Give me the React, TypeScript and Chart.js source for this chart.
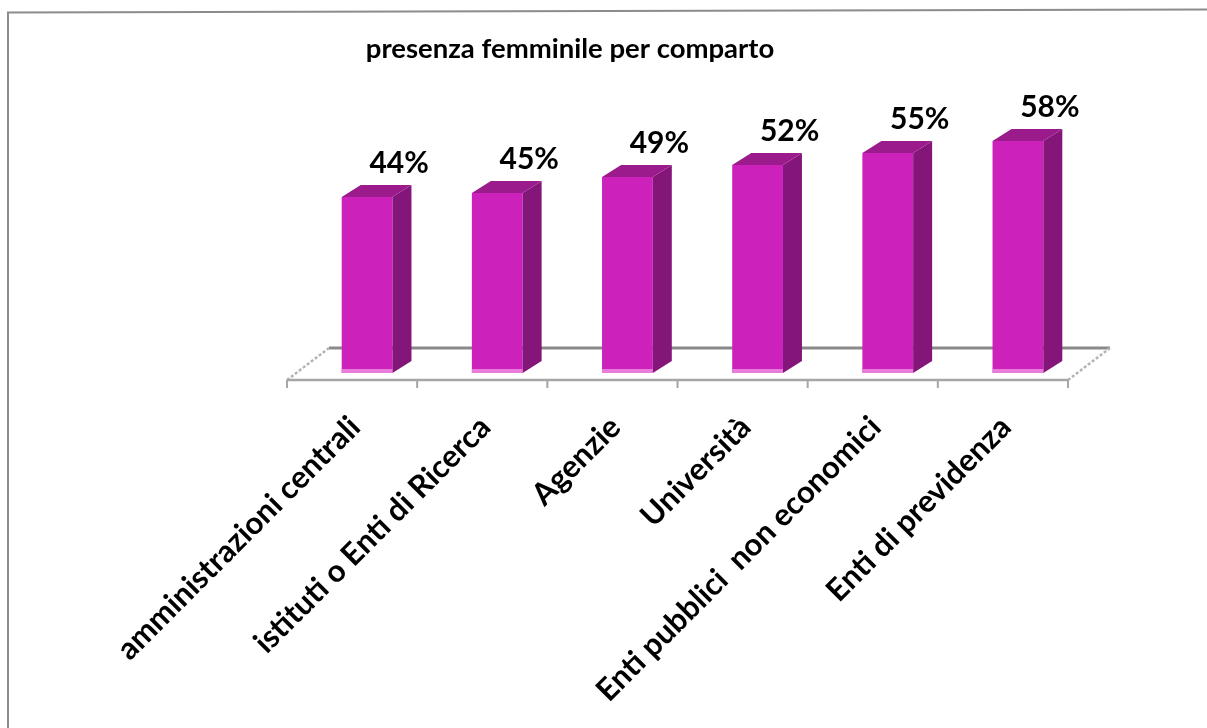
import React, { useEffect, useRef } from 'react';
import { Chart, registerables } from 'chart.js';

Chart.register(...registerables);

const categories = [
  'amministrazioni centrali',
  'istituti o Enti di Ricerca',
  'Agenzie',
  'Università',
  'Enti pubblici  non economici',
  'Enti di previdenza',
];
const values = [44, 45, 49, 52, 55, 58];
const valueLabels = ['44%', '45%', '49%', '52%', '55%', '58%'];
const chartTitle = 'presenza femminile per comparto';

const FONT = 'Lato, "Open Sans", sans-serif';
const FRONT = '#CC22BB';
const SIDE = '#851679';
const TOP = '#9B1B8D';

const decor = {
  id: 'decor',
  beforeDraw(chart: any) {
    const { ctx } = chart;
    ctx.save();
    ctx.fillStyle = '#ffffff';
    ctx.fillRect(0, 0, chart.width, chart.height);
    ctx.strokeStyle = '#8c8c8c';
    ctx.lineWidth = 2;
    ctx.beginPath();
    ctx.moveTo(8, chart.height);
    ctx.lineTo(8, 12.5);
    ctx.lineTo(chart.width, 9.5);
    ctx.stroke();
    ctx.restore();
  },
  beforeDatasetsDraw(chart: any) {
    const { ctx, chartArea, scales } = chart;
    const y0 = scales.y.getPixelForValue(0);
    const shift = 15;
    const left = chartArea.left - shift;
    const right = chartArea.right - shift;
    const fy = y0 + 7;
    const by = y0 - 25;
    const dx = 42;
    ctx.save();
    ctx.strokeStyle = '#8a8a8a';
    ctx.lineWidth = 3;
    ctx.beginPath();
    ctx.moveTo(left + dx, by);
    ctx.lineTo(right + dx, by);
    ctx.stroke();
    ctx.strokeStyle = '#b4b4b4';
    ctx.lineWidth = 2.5;
    ctx.setLineDash([3, 2]);
    ctx.beginPath();
    ctx.moveTo(left, fy);
    ctx.lineTo(left + dx, by);
    ctx.moveTo(right, fy);
    ctx.lineTo(right + dx, by);
    ctx.stroke();
    ctx.setLineDash([]);
    ctx.strokeStyle = '#a6a6a6';
    ctx.lineWidth = 2.5;
    ctx.beginPath();
    ctx.moveTo(left, fy);
    ctx.lineTo(right, fy);
    ctx.stroke();
    const n = categories.length;
    const w = (right - left) / n;
    ctx.lineWidth = 2;
    ctx.beginPath();
    for (let i = 0; i <= n; i++) {
      const tx = left + i * w;
      ctx.moveTo(tx, fy);
      ctx.lineTo(tx, fy + 8);
    }
    ctx.stroke();
    ctx.restore();
  },
  afterDatasetsDraw(chart: any) {
    const { ctx } = chart;
    const meta = chart.getDatasetMeta(0);
    const dx = 19;
    const dy = 12;
    ctx.save();
    meta.data.forEach((el: any, i: number) => {
      const xl = el.x - el.width / 2;
      const xr = el.x + el.width / 2;
      const top = el.y;
      const base = el.base;
      ctx.fillStyle = SIDE;
      ctx.beginPath();
      ctx.moveTo(xr, top);
      ctx.lineTo(xr + dx, top - dy);
      ctx.lineTo(xr + dx, base - dy);
      ctx.lineTo(xr, base);
      ctx.closePath();
      ctx.fill();
      ctx.fillStyle = TOP;
      ctx.beginPath();
      ctx.moveTo(xl, top);
      ctx.lineTo(xr, top);
      ctx.lineTo(xr + dx, top - dy);
      ctx.lineTo(xl + dx, top - dy);
      ctx.closePath();
      ctx.fill();
      ctx.fillStyle = 'rgba(235,140,225,0.85)';
      ctx.fillRect(xl, base - 4, xr - xl, 4);
      ctx.fillStyle = '#000';
      ctx.font = `bold 30px ${FONT}`;
      ctx.textAlign = 'center';
      ctx.textBaseline = 'middle';
      ctx.fillText(valueLabels[i], el.x + 32, top - 34);
    });
    ctx.restore();
  },
};

export default function App() {
  const ref = useRef<HTMLCanvasElement | null>(null);
  useEffect(() => {
    document.body.style.margin = '0';
    const canvas = ref.current;
    if (!canvas) return;
    const chart = new Chart(canvas, {
      type: 'bar',
      data: {
        labels: categories,
        datasets: [
          {
            data: values,
            backgroundColor: FRONT,
            borderWidth: 0,
            categoryPercentage: 0.39,
            barPercentage: 1,
          },
        ],
      },
      options: {
        responsive: false,
        animation: false,
        layout: { padding: { left: 0, right: 67, top: 0, bottom: 0 } },
        plugins: {
          legend: { display: false },
          tooltip: { enabled: false },
          title: {
            display: true,
            text: chartTitle,
            color: '#000',
            font: { family: FONT, size: 27.5, weight: 'bold' },
            padding: { top: 32.5, bottom: 7.5 },
          },
        },
        scales: {
          x: {
            grid: { display: false },
            border: { display: false },
            ticks: {
              color: '#000',
              font: { family: FONT, size: 31, weight: 'bold' },
              minRotation: 45,
              maxRotation: 45,
              autoSkip: false,
              padding: 28,
              labelOffset: -12,
            },
            afterFit: (s: any) => {
              s.height = 355;
            },
          },
          y: {
            position: 'left',
            min: 0,
            max: 75,
            grid: { display: false },
            border: { display: false },
            ticks: { display: false },
            afterFit: (s: any) => {
              s.width = 302;
            },
          },
          yR: {
            type: 'linear',
            position: 'right',
            min: 0,
            max: 1,
            grid: { display: false },
            border: { display: false },
            ticks: { display: false },
            afterFit: (s: any) => {
              s.width = 57;
            },
          },
        },
      },
      plugins: [decor],
    });
    return () => chart.destroy();
  }, []);
  return <canvas ref={ref} width={1207} height={728} style={{ display: 'block' }} />;
}
